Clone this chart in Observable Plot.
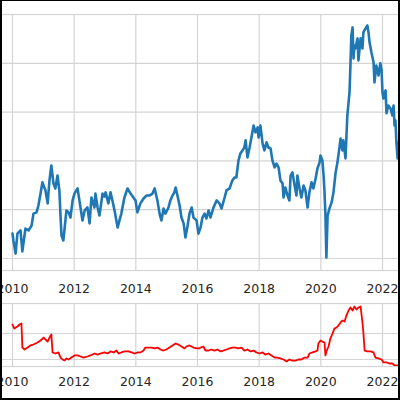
<!DOCTYPE html>
<html><head><meta charset="utf-8">
<script src="https://cdn.jsdelivr.net/npm/d3@7"></script>
<script src="https://cdn.jsdelivr.net/npm/@observablehq/plot@0.6"></script>
<style>
body{margin:0;background:#fff}
#wrap{position:relative;width:400px;height:400px;overflow:hidden;background:#fff}
#wrap svg{position:absolute;left:0;display:block;overflow:hidden}
#border{position:absolute;left:0;top:0;width:400px;height:400px;box-sizing:border-box;border:2px solid #000;border-top-width:1px;pointer-events:none}
</style></head>
<body>
<div id="wrap"><div id="border"></div></div>
<script>
const tickYears = [2010, 2012, 2014, 2016, 2018, 2020, 2022];
const priceGrid = [20, 40, 60, 80, 100, 120];
const spreadGrid = [20, 40];

const priceDates = [2010.00,2010.03,2010.10,2010.16,2010.26,2010.32,2010.42,2010.52,2010.62,2010.68,2010.78,2010.84,2010.91,2010.97,2011.07,2011.14,2011.20,2011.26,2011.33,2011.39,2011.46,2011.52,2011.56,2011.59,2011.65,2011.69,2011.75,2011.82,2011.88,2011.95,2012.01,2012.11,2012.17,2012.27,2012.34,2012.43,2012.50,2012.56,2012.66,2012.69,2012.76,2012.82,2012.92,2012.98,2013.02,2013.11,2013.18,2013.24,2013.31,2013.41,2013.47,2013.53,2013.63,2013.73,2013.83,2013.92,2013.99,2014.05,2014.15,2014.25,2014.35,2014.44,2014.54,2014.61,2014.70,2014.77,2014.83,2014.90,2014.96,2015.06,2015.12,2015.19,2015.25,2015.29,2015.35,2015.42,2015.48,2015.55,2015.61,2015.68,2015.74,2015.81,2015.87,2015.97,2016.03,2016.10,2016.16,2016.23,2016.29,2016.36,2016.42,2016.52,2016.62,2016.71,2016.78,2016.88,2016.94,2017.04,2017.13,2017.20,2017.26,2017.33,2017.39,2017.46,2017.52,2017.56,2017.62,2017.69,2017.75,2017.82,2017.88,2017.95,2017.98,2018.04,2018.11,2018.17,2018.24,2018.30,2018.37,2018.43,2018.50,2018.56,2018.63,2018.69,2018.76,2018.79,2018.85,2018.92,2018.98,2019.02,2019.08,2019.15,2019.21,2019.24,2019.31,2019.37,2019.44,2019.50,2019.57,2019.63,2019.70,2019.76,2019.83,2019.89,2019.96,2019.99,2020.05,2020.09,2020.12,2020.15,2020.18,2020.22,2020.28,2020.35,2020.41,2020.48,2020.54,2020.60,2020.64,2020.70,2020.73,2020.80,2020.86,2020.93,2020.96,2020.99,2021.03,2021.06,2021.09,2021.12,2021.19,2021.22,2021.29,2021.35,2021.38,2021.45,2021.51,2021.55,2021.58,2021.64,2021.71,2021.74,2021.80,2021.87,2021.93,2021.97,2022.00,2022.03,2022.10,2022.13,2022.19,2022.26,2022.32,2022.36,2022.39,2022.42,2022.45,2022.49,2022.52,2022.55];
const priceValues = [30.2,27.4,22.0,30.2,31.5,22.9,32.3,31.5,33.5,38.4,38.9,41.7,46.6,51.2,47.9,42.6,52.0,58.1,50.7,48.7,54.0,47.9,36.8,29.4,27.4,32.3,39.7,38.9,36.8,43.8,46.6,48.7,43.8,35.6,39.7,40.9,34.4,45.0,40.9,46.6,40.9,37.6,46.6,45.4,47.1,42.6,47.1,43.8,39.7,32.7,35.6,38.4,45.0,48.7,46.6,45.0,43.8,38.9,42.6,44.6,45.8,45.8,46.6,48.7,43.8,38.4,35.6,40.5,38.4,40.9,43.8,45.8,47.1,49.1,45.8,41.7,36.8,34.4,28.6,33.5,38.4,40.9,36.8,35.6,30.2,32.7,36.8,38.4,36.4,39.7,36.8,40.9,43.8,42.6,40.5,45.0,47.9,48.7,52.0,53.2,53.2,60.2,63.0,64.3,65.5,68.4,61.4,65.5,69.6,74.5,71.7,73.7,69.6,74.5,67.2,64.3,67.6,65.5,65.1,60.2,57.3,58.9,57.3,52.0,50.7,45.0,49.1,45.8,43.8,54.0,55.3,49.9,45.8,54.0,48.7,45.0,49.9,47.9,40.9,47.1,51.2,48.7,52.8,56.9,59.4,62.2,60.2,54.0,47.1,37.6,20.4,37.6,40.5,43.0,47.1,55.3,59.4,65.1,69.2,64.3,68.4,61.0,78.6,88.1,99.1,111.4,114.7,102.0,107.3,106.1,110.2,101.2,110.2,106.1,112.7,114.3,115.5,112.3,108.6,104.5,100.4,92.2,99.1,95.0,100.0,97.1,88.1,85.6,88.9,79.5,82.7,81.5,78.6,82.7,74.5,76.6,67.6,61.0,67.6,64.3];

const spreadDates = [2010.00,2010.06,2010.16,2010.23,2010.29,2010.32,2010.39,2010.49,2010.58,2010.68,2010.81,2010.91,2011.01,2011.07,2011.14,2011.20,2011.26,2011.30,2011.39,2011.49,2011.56,2011.62,2011.69,2011.75,2011.82,2011.91,2012.01,2012.11,2012.21,2012.30,2012.43,2012.53,2012.66,2012.76,2012.85,2012.98,2013.08,2013.18,2013.28,2013.37,2013.44,2013.53,2013.63,2013.76,2013.86,2013.96,2014.05,2014.15,2014.25,2014.31,2014.41,2014.51,2014.61,2014.70,2014.80,2014.90,2014.99,2015.09,2015.19,2015.29,2015.38,2015.48,2015.58,2015.64,2015.74,2015.87,2015.97,2016.06,2016.10,2016.19,2016.26,2016.36,2016.45,2016.55,2016.65,2016.75,2016.84,2016.94,2017.04,2017.13,2017.23,2017.33,2017.43,2017.52,2017.62,2017.72,2017.82,2017.91,2018.01,2018.11,2018.20,2018.30,2018.40,2018.50,2018.59,2018.69,2018.79,2018.89,2018.98,2019.08,2019.18,2019.28,2019.37,2019.47,2019.57,2019.63,2019.73,2019.83,2019.89,2019.92,2019.99,2020.05,2020.12,2020.15,2020.18,2020.25,2020.31,2020.38,2020.44,2020.51,2020.57,2020.64,2020.70,2020.77,2020.83,2020.90,2020.96,2021.03,2021.09,2021.16,2021.22,2021.29,2021.35,2021.38,2021.42,2021.51,2021.61,2021.71,2021.77,2021.87,2021.97,2022.03,2022.13,2022.23,2022.32,2022.39,2022.45,2022.52];
const spreadValues = [46.9,43.8,45.4,46.9,47.7,29.2,27.7,29.2,30.8,31.5,33.1,34.6,36.9,35.4,33.8,36.9,39.2,25.4,24.6,25.4,21.5,20.0,19.2,20.8,20.0,21.5,23.1,23.1,22.3,21.5,22.3,23.1,24.6,23.8,24.6,25.4,24.6,26.2,25.4,26.9,24.6,25.4,26.2,26.2,25.4,24.6,25.4,25.4,26.9,29.2,29.2,29.2,28.5,29.2,27.7,26.9,27.7,29.2,30.8,32.3,31.5,30.0,28.5,30.0,30.8,29.2,28.5,28.5,29.2,30.0,26.9,26.9,27.7,26.9,27.7,26.2,26.9,27.7,28.5,29.2,29.2,28.5,29.2,26.9,27.7,26.2,26.9,25.4,24.6,25.4,23.8,24.6,23.1,21.5,21.5,20.8,20.0,18.5,20.0,19.2,19.2,20.0,20.0,21.5,21.5,24.6,25.4,26.2,26.9,32.3,34.6,33.8,33.1,23.1,26.2,30.0,36.1,40.0,43.8,44.6,46.1,48.5,50.0,49.2,53.8,57.7,60.0,57.7,60.8,58.5,60.0,60.8,48.5,40.8,26.9,26.2,26.2,25.4,21.5,20.8,20.0,17.7,17.7,16.9,16.9,15.4,15.4,15.4];

const xDomain = [2009.611, 2022.584];
const gridColor = "#d4d4d4";
const style = {fontFamily: "DejaVu Sans", fontSize: "12.5px", color: "#262626", background: "transparent"};

const priceData = priceDates.map((t, i) => ({t, v: priceValues[i]}));
const spreadData = spreadDates.map((t, i) => ({t, v: spreadValues[i]}));

const topChart = Plot.plot({
  width: 400, height: 295,
  marginLeft: 0, marginRight: 0, marginTop: 14, marginBottom: 25,
  style,
  x: {domain: xDomain, ticks: tickYears, tickSize: 0, tickPadding: 14, tickFormat: d => String(d), label: null},
  y: {domain: [15.08, 120], axis: null},
  marks: [
    Plot.ruleY(priceGrid, {stroke: gridColor, strokeWidth: 1.2}),
    Plot.ruleX(tickYears, {stroke: gridColor, strokeWidth: 1.2}),
    Plot.frame({stroke: gridColor, strokeWidth: 1.2}),
    Plot.line(priceData, {x: "t", y: "v", stroke: "#1f77b4", strokeWidth: 2.6, strokeLinejoin: "round", clip: true})
  ]
});
const bottomChart = Plot.plot({
  width: 400, height: 105,
  marginLeft: 0, marginRight: 0, marginTop: 8, marginBottom: 34,
  style,
  x: {domain: xDomain, ticks: tickYears, tickSize: 0, tickPadding: 11, tickFormat: d => String(d), label: null},
  y: {domain: [14.6, 63.1], axis: null},
  marks: [
    Plot.ruleY(spreadGrid, {stroke: gridColor, strokeWidth: 1.2}),
    Plot.ruleX(tickYears, {stroke: gridColor, strokeWidth: 1.2}),
    Plot.frame({stroke: gridColor, strokeWidth: 1.2}),
    Plot.line(spreadData, {x: "t", y: "v", stroke: "#ff0000", strokeWidth: 1.8, clip: true})
  ]
});
topChart.style.top = "0px";
bottomChart.style.top = "295px";
const wrap = document.getElementById("wrap");
wrap.insertBefore(topChart, wrap.firstChild);
wrap.insertBefore(bottomChart, document.getElementById("border"));
</script>
</body></html>
